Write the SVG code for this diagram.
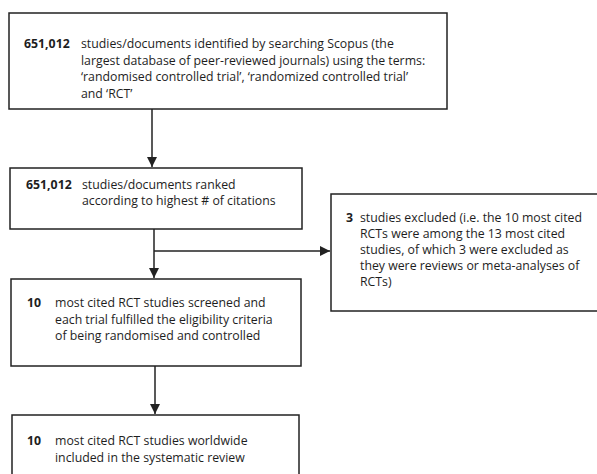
<svg xmlns="http://www.w3.org/2000/svg" width="597" height="474" viewBox="0 0 597 474">
<style>
.box{fill:#fff;stroke:#222;stroke-width:1.5}
.t{font-family:"Open Sans","Liberation Sans",sans-serif;font-size:12.3px;fill:#1e1e1e}
.b{font-weight:bold}
.c{stroke:#222;stroke-width:1.5;fill:none}
</style>
<defs>
<marker id="ah" viewBox="0 0 10 10" refX="10" refY="5" markerWidth="7" markerHeight="7" orient="auto" markerUnits="strokeWidth">
<path d="M0,0 L10,5 L0,10 z" fill="#222"/>
</marker>
</defs>
<rect width="597" height="474" fill="#fff"/>
<g id="connectors">
<line class="c" x1="152" y1="109" x2="152" y2="167" marker-end="url(#ah)"/>
<line class="c" x1="154" y1="229" x2="154" y2="278" marker-end="url(#ah)"/>
<line class="c" x1="154" y1="251" x2="330" y2="251" marker-end="url(#ah)"/>
<line class="c" x1="155" y1="366" x2="155" y2="414" marker-end="url(#ah)"/>
</g>
<g id="n1">
<rect class="box" x="9" y="13" width="438" height="96"/>
<text class="t b" x="24" y="48">651,012</text>
<text class="t" x="81" y="48">studies/documents identified by searching Scopus (the</text>
<text class="t" x="81" y="64.5">largest database of peer-reviewed journals) using the terms:</text>
<text class="t" x="81" y="81">‘randomised controlled trial’, ‘randomized controlled trial’</text>
<text class="t" x="81" y="97.5">and ‘RCT’</text>
</g>
<g id="n2">
<rect class="box" x="10" y="168" width="292" height="61"/>
<text class="t b" x="26" y="188.5">651,012</text>
<text class="t" x="82" y="188.5">studies/documents ranked</text>
<text class="t" x="82" y="205">according to highest # of citations</text>
</g>
<g id="n3">
<rect class="box" x="331" y="194" width="270" height="117"/>
<text class="t b" x="346" y="222">3</text>
<text class="t" x="360" y="222">studies excluded (i.e. the 10 most cited</text>
<text class="t" x="360" y="238">RCTs were among the 13 most cited</text>
<text class="t" x="360" y="254">studies, of which 3 were excluded as</text>
<text class="t" x="360" y="270">they were reviews or meta-analyses of</text>
<text class="t" x="360" y="286">RCTs)</text>
</g>
<g id="n4">
<rect class="box" x="11" y="279" width="290" height="87"/>
<text class="t b" x="27" y="307">10</text>
<text class="t" x="55" y="307">most cited RCT studies screened and</text>
<text class="t" x="55" y="323.5">each trial fulfilled the eligibility criteria</text>
<text class="t" x="55" y="340">of being randomised and controlled</text>
</g>
<g id="n5">
<rect class="box" x="12" y="415" width="287" height="70"/>
<text class="t b" x="27" y="445">10</text>
<text class="t" x="55" y="445">most cited RCT studies worldwide</text>
<text class="t" x="55" y="461.5">included in the systematic review</text>
</g>
</svg>
